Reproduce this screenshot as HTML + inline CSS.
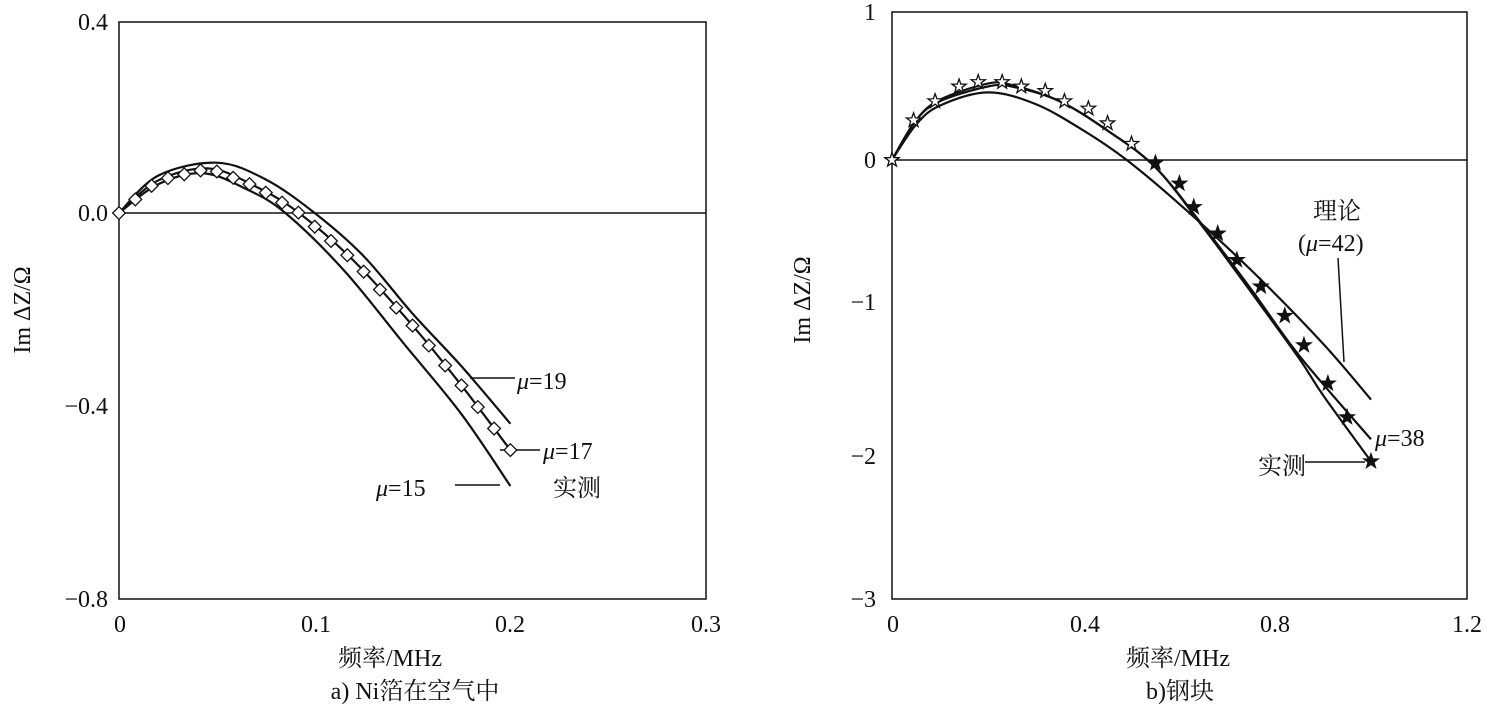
<!DOCTYPE html><html><head><meta charset="utf-8"><style>body{margin:0;background:#fff}svg{display:block}text{font-family:"Liberation Serif","Noto Serif CJK SC",serif;fill:#111}</style></head><body>
<svg id="s" width="1487" height="707" xmlns="http://www.w3.org/2000/svg">
<g fill="none" stroke="#111" stroke-width="1.5">
<rect x="119" y="22" width="587" height="577"/>
<line x1="119" y1="213" x2="706" y2="213"/>
<rect x="892" y="12" width="575" height="587"/>
<line x1="892" y1="160" x2="1467" y2="160"/>
</g>
<g font-size="24">
<text x="108" y="30" text-anchor="end">0.4</text>
<text x="108" y="221" text-anchor="end">0.0</text>
<text x="108" y="414" text-anchor="end">−0.4</text>
<text x="108" y="607" text-anchor="end">−0.8</text>
<text x="120" y="632" text-anchor="middle">0</text>
<text x="316" y="632" text-anchor="middle">0.1</text>
<text x="510" y="632" text-anchor="middle">0.2</text>
<text x="706" y="632" text-anchor="middle">0.3</text>
<text x="876" y="20" text-anchor="end">1</text>
<text x="876" y="168" text-anchor="end">0</text>
<text x="876" y="310" text-anchor="end">−1</text>
<text x="876" y="464" text-anchor="end">−2</text>
<text x="876" y="607" text-anchor="end">−3</text>
<text x="893" y="632" text-anchor="middle">0</text>
<text x="1085" y="632" text-anchor="middle">0.4</text>
<text x="1275" y="632" text-anchor="middle">0.8</text>
<text x="1467" y="632" text-anchor="middle">1.2</text>
<text x="390" y="666" text-anchor="middle">频率/MHz</text>
<text x="1178" y="666" text-anchor="middle">频率/MHz</text>
<text x="415" y="699" text-anchor="middle">a) Ni箔在空气中</text>
<text x="1180" y="699" text-anchor="middle">b)钢块</text>
<text transform="translate(30,310) rotate(-90)" text-anchor="middle">Im  ΔZ/Ω</text>
<text transform="translate(810,300) rotate(-90)" text-anchor="middle">Im  ΔZ/Ω</text>
<text x="517" y="389"><tspan font-style="italic">μ</tspan>=19</text>
<text x="543" y="459"><tspan font-style="italic">μ</tspan>=17</text>
<text x="553" y="496">实测</text>
<text x="376" y="496"><tspan font-style="italic">μ</tspan>=15</text>
<text x="1313" y="219">理论</text>
<text x="1298" y="251">(<tspan font-style="italic">μ</tspan>=42)</text>
<text x="1375" y="446"><tspan font-style="italic">μ</tspan>=38</text>
<text x="1258" y="474">实测</text>
</g>
<g stroke="#111" stroke-width="1.5">
<line x1="470" y1="378" x2="515" y2="378"/>
<line x1="500" y1="450" x2="540" y2="450"/>
<line x1="455" y1="485" x2="500" y2="485"/>
<line x1="1338" y1="258" x2="1344" y2="362"/>
<line x1="1305" y1="462" x2="1365" y2="462"/>
</g>
<g id="c" fill="none" stroke="#111" stroke-width="2.2"></g>
</svg>
<script>
const g=document.getElementById('c'),NS='http://www.w3.org/2000/svg';
function cr(p){let d='M'+p[0];for(let i=0;i<p.length-1;i++){const p0=p[i-1]||p[i],p1=p[i],p2=p[i+1],p3=p[i+2]||p2;d+=' C'+(p1[0]+(p2[0]-p0[0])/6)+','+(p1[1]+(p2[1]-p0[1])/6)+' '+(p2[0]-(p3[0]-p1[0])/6)+','+(p2[1]-(p3[1]-p1[1])/6)+' '+p2[0]+','+p2[1];}return d;}
function path(p,w){const e=document.createElementNS(NS,'path');e.setAttribute('d',cr(p));if(w)e.setAttribute('stroke-width',w);g.appendChild(e);}
const L=(x,y)=>[119+x*1957,213-y*479],R=(x,y)=>[892+x*479,160-y*147];
const l19=[[0,0],[0.02,0.078],[0.05,0.105],[0.075,0.07],[0.1,0],[0.125,-0.09],[0.15,-0.21],[0.175,-0.32],[0.2,-0.44]].map(a=>L(...a));
const pts17=[[0,0],[0.02,0.068],[0.046,0.093],[0.07,0.055],[0.092,0],[0.12,-0.1],[0.15,-0.235],[0.175,-0.36],[0.2,-0.495]];
const l17=pts17.map(a=>L(...a));
const l15=[[0,0],[0.02,0.06],[0.043,0.083],[0.065,0.05],[0.085,0],[0.115,-0.12],[0.145,-0.27],[0.175,-0.42],[0.2,-0.57]].map(a=>L(...a));
path(l19);path(l17);path(l15);
for(let i=0;i<=24;i++){const x=i*0.2/24;let y;const pts=pts17;for(let k=0;k<pts.length-1;k++)if(x>=pts[k][0]&&x<=pts[k+1][0]+1e-9){const t=(x-pts[k][0])/(pts[k+1][0]-pts[k][0]);y=pts[k][1]+t*(pts[k+1][1]-pts[k][1]);break;}
const [px,py]=L(x,y);const e=document.createElementNS(NS,'rect');e.setAttribute('x',px-4.5);e.setAttribute('y',py-4.5);e.setAttribute('width',9);e.setAttribute('height',9);e.setAttribute('fill','#fff');e.setAttribute('stroke-width','1.3');e.setAttribute('transform','rotate(45 '+px+' '+py+')');g.appendChild(e);}
const r38=[[0,0],[0.05,0.27],[0.1,0.4],[0.2,0.5],[0.25,0.5],[0.35,0.4],[0.45,0.2],[0.55,-0.05],[0.65,-0.45],[0.75,-0.88],[0.85,-1.33],[1.0,-1.9]].map(a=>R(...a));
const rd=[[0,0],[0.05,0.27],[0.1,0.41],[0.2,0.52],[0.25,0.51],[0.35,0.4],[0.45,0.2],[0.55,-0.05],[0.65,-0.46],[0.75,-0.9],[0.85,-1.35],[0.9,-1.6],[1.0,-2.05]].map(a=>R(...a));
const r42=[[0,0],[0.05,0.24],[0.1,0.37],[0.2,0.46],[0.3,0.38],[0.4,0.2],[0.49,0],[0.6,-0.3],[0.75,-0.75],[0.9,-1.25],[1.0,-1.63]].map(a=>R(...a));
path(r38);path(rd);path(r42);
function star(x,y,fill){let d='';for(let i=0;i<10;i++){const r=i%2?3:7.5,a=-Math.PI/2+i*Math.PI/5;d+=(i?'L':'M')+(x+r*Math.cos(a))+','+(y+r*Math.sin(a));}const e=document.createElementNS(NS,'path');e.setAttribute('d',d+'Z');e.setAttribute('fill',fill);e.setAttribute('stroke-width','1.3');g.appendChild(e);}
[[0,0],[0.045,0.27],[0.09,0.4],[0.14,0.5],[0.18,0.53],[0.23,0.53],[0.27,0.5],[0.32,0.47],[0.36,0.4],[0.41,0.35],[0.45,0.25],[0.5,0.11]].forEach(a=>{const[p,q]=R(...a);star(p,q,'#fff')});
[[0.55,-0.02],[0.6,-0.16],[0.63,-0.32],[0.68,-0.5],[0.72,-0.68],[0.77,-0.86],[0.82,-1.06],[0.86,-1.26],[0.91,-1.52],[0.95,-1.75],[1.0,-2.05]].forEach(a=>{const[p,q]=R(...a);star(p,q,'#111')});
</script></body></html>
